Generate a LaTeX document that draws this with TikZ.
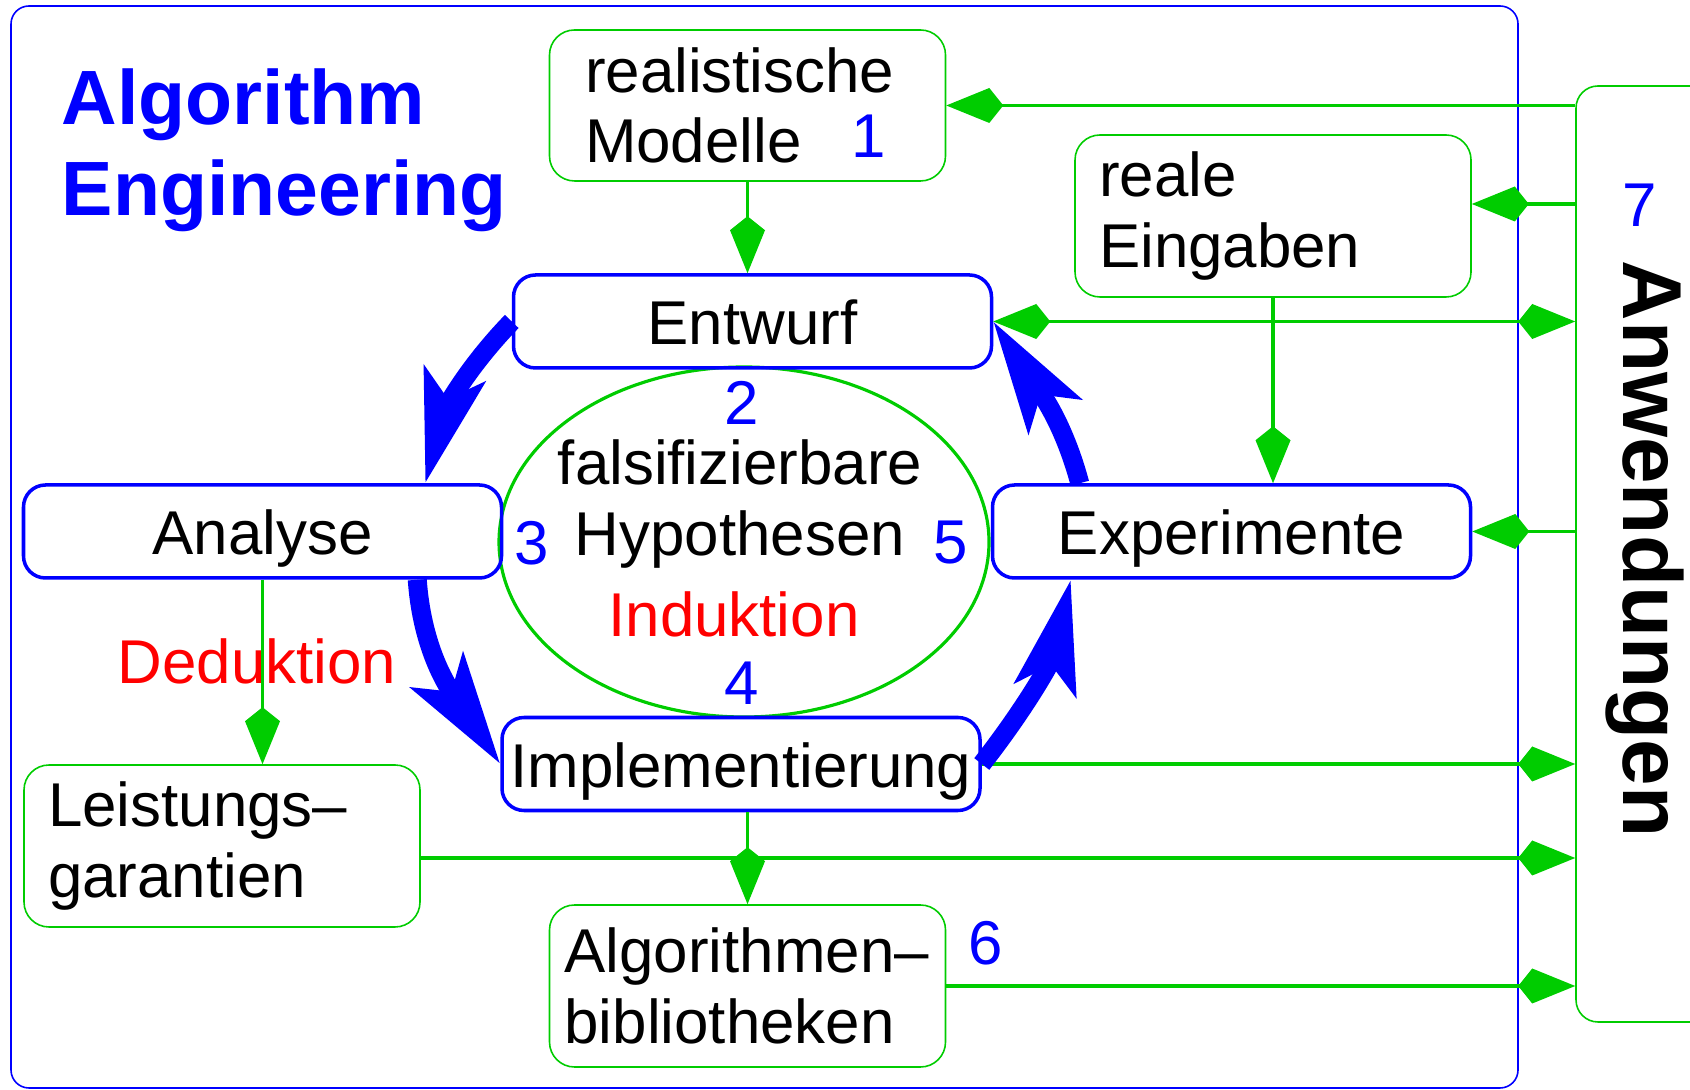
\documentclass[tikz,border=0pt]{standalone}
\usepackage{fontspec}
\setmainfont{Liberation Sans}
\usepackage{xcolor}
\definecolor{aeblue}{RGB}{0,0,255}
\definecolor{aegreen}{RGB}{0,204,0}
\definecolor{aered}{RGB}{255,0,0}
\usepackage{tikz}
\usetikzlibrary{arrows.meta, positioning, shapes.geometric}
\newcommand{\diagfont}{\fontsize{17.6pt}{20pt}\selectfont}
\newcommand{\titlefont}{\fontsize{21.9pt}{26pt}\selectfont\bfseries}
\newcommand{\sidefont}{\fontsize{23.8pt}{28pt}\selectfont\bfseries}

\begin{document}
\begin{tikzpicture}[
  phase/.style={rectangle, rounded corners=0.22cm, draw=aeblue, line width=1pt,
                minimum width=4.78cm, minimum height=0.93cm, inner xsep=0.05cm,
                text height=0.47cm, text depth=0pt, font=\diagfont},
  item/.style={rectangle, rounded corners=0.25cm, draw=aegreen, line width=0.45pt,
               minimum width=3.96cm, minimum height=1.62cm, font=\diagfont,
               align=left, text width=3.48cm, inner xsep=0.24cm},
  num/.style={text=aeblue, font=\diagfont, inner sep=0pt},
  logic/.style={text=aered, font=\diagfont, inner sep=0pt},
  gem/.tip={Kite[length=0.57cm, width=0.35cm, inset=0.14cm]},
  link/.style={draw=aegreen, line width=1.1pt, -gem},
  turn/.style={draw=aeblue, line width=0.19cm,
               -{Stealth[length=1.12cm, width=0.62cm, inset=0.25cm]}}
]
\useasboundingbox (0,0) rectangle (16.9,10.89);
\clip (0,0) rectangle (16.9,10.89);

% Frame and title
\draw[aeblue, line width=0.45pt, rounded corners=0.18cm] (0.11,0.01) rectangle (15.18,10.83);
\node[anchor=west, align=left, text=aeblue, font=\titlefont, inner sep=0pt] (title) at (0.61,9.39) {Algorithm\\Engineering};

% Hypotheses in the middle
\node[ellipse, draw=aegreen, line width=0.9pt, minimum width=4.9cm, minimum height=3.5cm, inner sep=0pt] (hyp) at (7.44,5.47) {};
\node[align=center, font=\diagfont, inner sep=0pt] (hyptext) at (7.40,5.85) {falsifizierbare\\Hypothesen};
\node[logic] (induktion) at (7.34,4.75) {Induktion};

% Cycle steps
\node[phase] (entwurf) at (7.525,7.675) {Entwurf};
\node[phase] (analyse) at (2.625,5.575) {Analyse};
\node[phase] (impl) at (7.41,3.25) {Implementierung};
\node[phase] (exper) at (12.315,5.575) {Experimente};

% Surrounding boxes
\node[item, minimum height=1.51cm, text width=3.25cm, inner xsep=0.35cm] (modelle) at (7.475,9.835) {realistische\\Modelle};
\node[item] (eingaben) at (12.73,8.73) {reale\\Eingaben};
\node[item] (garantien) at (2.22,2.43) {Leistungs\textendash\\garantien};
\node[item, text width=3.66cm, inner xsep=0.145cm] (biblio) at (7.475,1.03) {Algorithmen\textendash\\bibliotheken};
\node[logic] (deduktion) at (2.57,4.28) {Deduktion};

% Applications
\node[draw=aegreen, line width=0.45pt, rounded corners=0.22cm, minimum width=1.38cm, minimum height=9.36cm] (anw) at (16.45,5.35) {};
\node[rotate=-90, font=\sidefont, inner sep=0pt] (anwtext) at (16.45,5.40) {Anwendungen};

% Numbers
\node[num] (n1) at (8.69,9.53) {1};
\node[num] (n2) at (7.42,6.86) {2};
\node[num] (n3) at (5.32,5.46) {3};
\node[num] (n4) at (7.42,4.06) {4};
\node[num] (n5) at (9.51,5.46) {5};
\node[num] (n6) at (9.86,1.46) {6};
\node[num] (n7) at (16.40,8.84) {7};

% Links to and from the applications
\draw[link] (anw.west |- modelle.east) -- (modelle.east);
\coordinate (eingabenin) at ([yshift=1.2mm]eingaben.east);
\draw[link] (anw.west |- eingabenin) -- (eingabenin);
\draw[link, gem-gem] (entwurf.east) -- (anw.west |- entwurf.east);
\draw[link] (anw.west |- exper.east) -- (exper.east);
\draw[link] (impl.east) -- (anw.west |- impl.east);
\coordinate (garantienout) at ([yshift=-1.2mm]garantien.east);
\draw[link] (garantienout) -- (anw.west |- garantienout);
\draw[link] (biblio.east) -- (anw.west |- biblio.east);

% Vertical links
\draw[link] (modelle.south) -- (modelle.south |- entwurf.north);
\draw[link] (eingaben.south) -- (eingaben.south |- exper.north);
\draw[link] (analyse.south) -- (analyse.south |- garantien.north);
\draw[link] (impl.south -| biblio.north) -- (biblio.north);

% The cycle
\draw[turn] (entwurf.west) to[out=226, in=75] ([xshift=-0.78cm]analyse.north east);
\draw[turn] ([xshift=-0.86cm]analyse.south east) to[out=274, in=124] (impl.west);
\draw[turn] (impl.east) to[out=52, in=257] ([xshift=0.8cm]exper.south west);
\draw[turn] ([xshift=0.89cm]exper.north west) to[out=105, in=303] (entwurf.east);
\end{tikzpicture}
\end{document}
